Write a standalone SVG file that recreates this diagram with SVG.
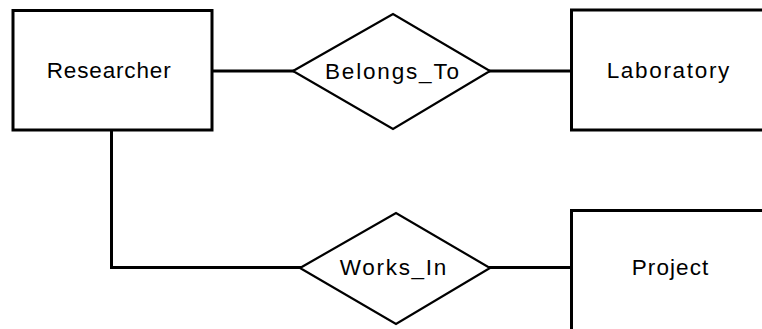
<svg xmlns="http://www.w3.org/2000/svg" width="762" height="329" viewBox="0 0 762 329">
  <style>
    .entity { fill: #ffffff; stroke: #000000; stroke-width: 3; }
    .relation { fill: #ffffff; stroke: #000000; stroke-width: 2.2; stroke-linejoin: miter; }
    .link { fill: none; stroke: #000000; stroke-width: 3; }
    .label { font-family: "Liberation Sans", Arial, sans-serif; font-size: 22.5px; fill: #000000; text-anchor: middle; }
  </style>
  <rect width="762" height="329" fill="#ffffff"/>

  <g id="connectors">
    <line class="link" x1="212" y1="71" x2="294" y2="71"/>
    <line class="link" x1="489" y1="71" x2="571" y2="71"/>
    <polyline class="link" points="111.5,130 111.5,267.5 301,267.5"/>
    <line class="link" x1="489" y1="267.5" x2="571" y2="267.5"/>
  </g>

  <g id="researcher">
    <rect class="entity" x="13" y="10.5" width="199" height="119.5"/>
    <text class="label" x="108.7" y="78" textLength="124" lengthAdjust="spacing">Researcher</text>
  </g>

  <g id="belongs_to">
    <polygon class="relation" points="293,71 393,14 490,71 393,129"/>
    <text class="label" x="392" y="78.5" textLength="134" lengthAdjust="spacing">Belongs_To</text>
  </g>

  <g id="laboratory">
    <rect class="entity" x="571.5" y="10" width="210" height="120"/>
    <text class="label" x="668" y="78" textLength="122.7" lengthAdjust="spacing">Laboratory</text>
  </g>

  <g id="works_in">
    <polygon class="relation" points="300,268 396,213 490,268 396,324"/>
    <text class="label" x="393" y="275" textLength="106.7" lengthAdjust="spacing">Works_In</text>
  </g>

  <g id="project">
    <rect class="entity" x="571.5" y="210.5" width="210" height="140"/>
    <text class="label" x="670" y="274.5" textLength="76.7" lengthAdjust="spacing">Project</text>
  </g>
</svg>
